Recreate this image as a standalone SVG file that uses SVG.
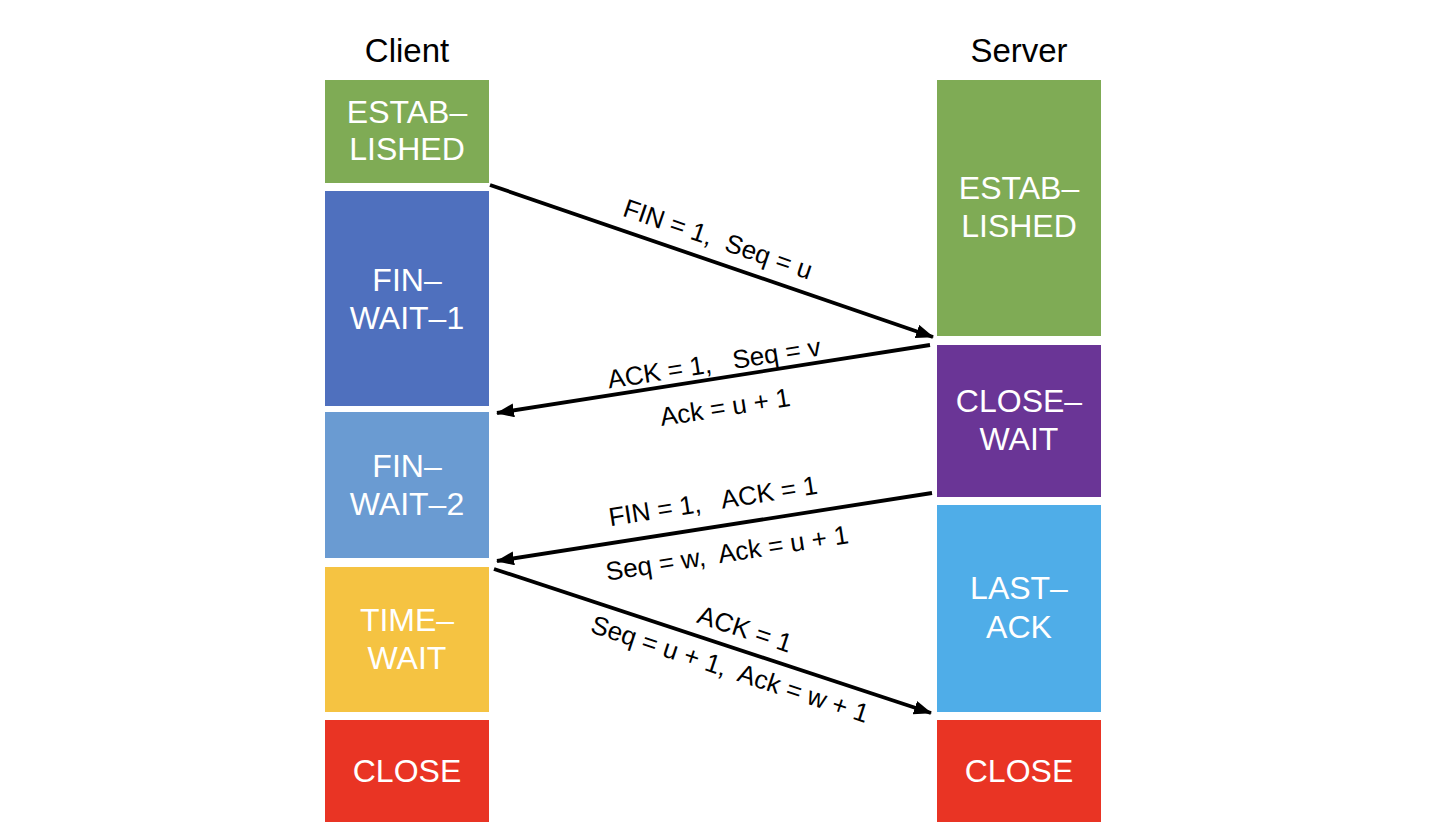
<svg xmlns="http://www.w3.org/2000/svg" width="1452" height="834" viewBox="0 0 1452 834">
<style>
.title{font-family:"Liberation Sans",Arial,sans-serif;font-size:33px;fill:#000;text-anchor:middle}
.st{font-family:"Liberation Sans",Arial,sans-serif;font-size:32px;fill:#fff;text-anchor:middle}
.lbl{font-family:"Liberation Sans",Arial,sans-serif;font-size:26px;fill:#000;text-anchor:middle;dominant-baseline:central}
.ln{stroke:#000;stroke-width:3.8;fill:none;marker-end:url(#ah)}
</style>
<defs>
<marker id="ah" markerUnits="userSpaceOnUse" markerWidth="20" markerHeight="16" refX="17" refY="7" orient="auto">
<path d="M0,0 L18,7 L0,14 Z" fill="#000"/>
</marker>
</defs>
<rect width="1452" height="834" fill="#fff"/>
<text class="title" x="407" y="62">Client</text>
<text class="title" x="1019" y="62">Server</text>

<g id="c-established"><rect x="325" y="80" width="164" height="103" fill="#7FAB55"/><text class="st" x="407" y="123">ESTAB–</text><text class="st" x="407" y="160">LISHED</text></g>
<g id="c-finwait1"><rect x="325" y="191" width="164" height="215" fill="#4F70BE"/><text class="st" x="407" y="291">FIN–</text><text class="st" x="407" y="329">WAIT–1</text></g>
<g id="c-finwait2"><rect x="325" y="412" width="164" height="146" fill="#6A9BD2"/><text class="st" x="407" y="477">FIN–</text><text class="st" x="407" y="515">WAIT–2</text></g>
<g id="c-timewait"><rect x="325" y="567" width="164" height="145" fill="#F5C342"/><text class="st" x="407" y="631">TIME–</text><text class="st" x="407" y="669">WAIT</text></g>
<g id="c-close"><rect x="325" y="720" width="164" height="102" fill="#E93424"/><text class="st" x="407" y="782">CLOSE</text></g>

<g id="s-established"><rect x="937" y="80" width="164" height="256" fill="#7FAB55"/><text class="st" x="1019" y="199">ESTAB–</text><text class="st" x="1019" y="237">LISHED</text></g>
<g id="s-closewait"><rect x="937" y="345" width="164" height="152" fill="#6A3596"/><text class="st" x="1019" y="412">CLOSE–</text><text class="st" x="1019" y="450">WAIT</text></g>
<g id="s-lastack"><rect x="937" y="505" width="164" height="207" fill="#4FADE8"/><text class="st" x="1019" y="599">LAST–</text><text class="st" x="1019" y="638">ACK</text></g>
<g id="s-close"><rect x="937" y="720" width="164" height="102" fill="#E93424"/><text class="st" x="1019" y="782">CLOSE</text></g>

<g id="connectors">
<line class="ln" x1="490" y1="185" x2="933" y2="337"/>
<line class="ln" x1="930" y1="345" x2="497" y2="413"/>
<line class="ln" x1="932" y1="493" x2="497" y2="561"/>
<line class="ln" x1="494" y1="569" x2="931" y2="713"/>
<text class="lbl" transform="translate(718,239) rotate(18.93)" xml:space="preserve">FIN = 1,  Seq = u</text>
<text class="lbl" transform="translate(714,363) rotate(-8.93)" xml:space="preserve">ACK = 1,   Seq = v</text>
<text class="lbl" transform="translate(725,407) rotate(-8.93)">Ack = u + 1</text>
<text class="lbl" transform="translate(713,501) rotate(-8.88)" xml:space="preserve">FIN = 1,   ACK = 1</text>
<text class="lbl" transform="translate(727,553) rotate(-8.88)" xml:space="preserve">Seq = w,  Ack = u + 1</text>
<text class="lbl" transform="translate(745,629) rotate(18.24)">ACK = 1</text>
<text class="lbl" transform="translate(730,669) rotate(18.24)" xml:space="preserve">Seq = u + 1,  Ack = w + 1</text>
</g>
</svg>
